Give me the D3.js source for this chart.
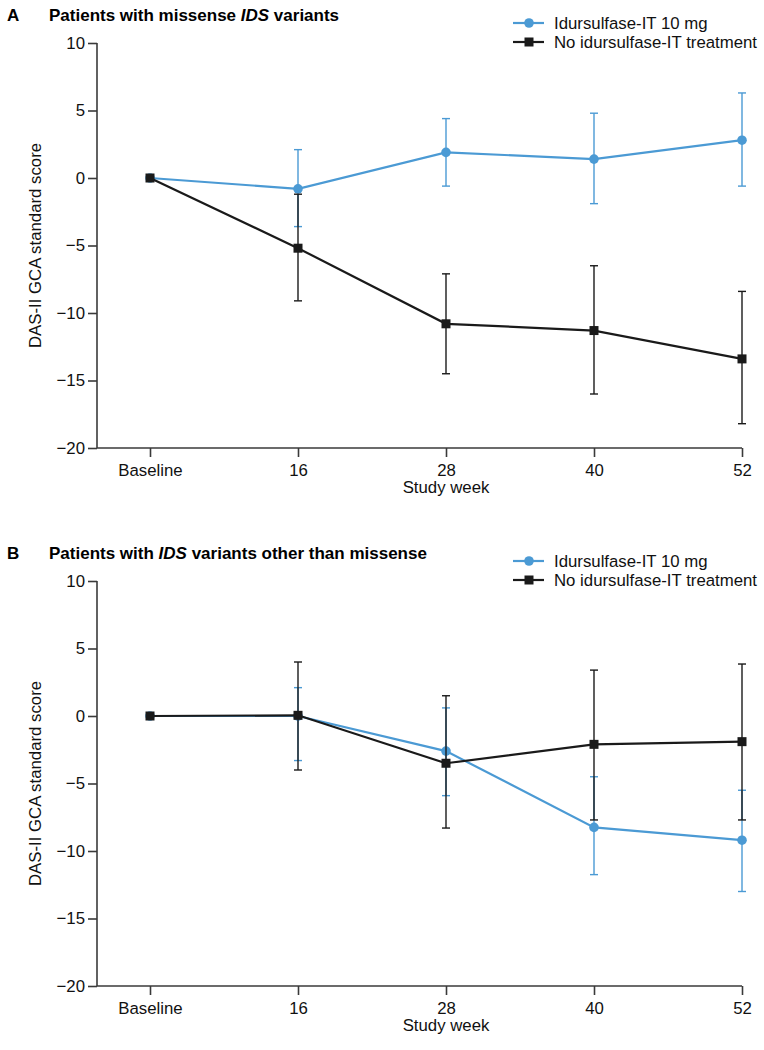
<!DOCTYPE html>
<html>
<head>
<meta charset="utf-8">
<script src="https://cdn.jsdelivr.net/npm/d3@7"></script>
<style>
  body { margin: 0; background: #fff; }
  svg text { font-family: "Liberation Sans", Arial, sans-serif; }
</style>
</head>
<body>
<svg id="main" width="764" height="1050"></svg>
<script>
const weeks = ["Baseline", "16", "28", "40", "52"];
const yTicks = [10, 5, 0, -5, -10, -15, -20];

// Panel A: missense IDS variants
const aIdu   = [0, -0.8, 1.9, 1.4, 2.8];
const aIduLo = [null, -3.6, -0.6, -1.9, -0.6];
const aIduHi = [null, 2.1, 4.4, 4.8, 6.3];
const aNo    = [0, -5.2, -10.8, -11.3, -13.4];
const aNoLo  = [null, -9.1, -14.5, -16.0, -18.2];
const aNoHi  = [null, -1.2, -7.1, -6.5, -8.4];

// Panel B: IDS variants other than missense
const bIdu   = [0, 0.0, -2.6, -8.25, -9.2];
const bIduLo = [null, -3.3, -5.9, -11.75, -13.0];
const bIduHi = [null, 2.1, 0.6, -4.5, -5.5];
const bNo    = [0, 0.05, -3.5, -2.1, -1.9];
const bNoLo  = [null, -4.0, -8.3, -7.7, -7.7];
const bNoHi  = [null, 4.0, 1.5, 3.4, 3.85];

const legendNames = ["Idursulfase-IT 10 mg", "No idursulfase-IT treatment"];
const blue = "#4b9ad4";
const black = "#1a1a1a";
const axisCol = "#3a3a3a";
const fs = "16.8px";

const svg = d3.select("svg#main");

const x = d3.scalePoint().domain(weeks).range([150, 742]);

function panel(off, letter, titleParts, idu, iduLo, iduHi, no, noLo, noHi) {
    const g = svg.append("g").attr("transform", `translate(0,${off})`);
    const y = d3.scaleLinear().domain([-20, 10]).range([448, 43]);

    // title
    g.append("text").attr("x", 7).attr("y", 21)
        .attr("font-size", "17px").attr("font-weight", "bold").text(letter);
    const t = g.append("text").attr("x", 49).attr("y", 21)
        .attr("font-size", "17px").attr("font-weight", "bold");
    titleParts.forEach(p => {
        t.append("tspan").attr("font-style", p[1] ? "italic" : "normal").text(p[0]);
    });

    // axes
    const yAxis = g.append("g").attr("transform", "translate(97,0)")
        .call(d3.axisLeft(y).tickValues(yTicks).tickSize(9).tickPadding(3)
            .tickFormat(d => d < 0 ? "\u2212" + Math.abs(d) : d));
    yAxis.select(".domain").remove();
    yAxis.append("line").attr("x1", 0).attr("x2", 0).attr("y1", y(10)).attr("y2", y(-20))
        .attr("stroke", axisCol).attr("stroke-width", 1.6);

    const xAxis = g.append("g").attr("transform", `translate(0,${y(-20)})`)
        .call(d3.axisBottom(x).tickSize(9).tickPadding(7));
    xAxis.select(".domain").remove();
    xAxis.append("line").attr("x1", 97).attr("x2", 742).attr("y1", 0).attr("y2", 0)
        .attr("stroke", axisCol).attr("stroke-width", 1.6);

    [yAxis, xAxis].forEach(a => {
        a.selectAll(".tick line").attr("stroke", axisCol).attr("stroke-width", 1.6);
        a.selectAll(".tick text").attr("font-size", fs).attr("fill", "#111")
            .attr("font-family", "Liberation Sans, Arial, sans-serif");
    });

    g.append("text").attr("x", 446).attr("y", 493).attr("text-anchor", "middle")
        .attr("font-size", fs).attr("fill", "#111").text("Study week");
    g.append("text").attr("transform", `translate(41,${(y(10) + y(-20)) / 2}) rotate(-90)`)
        .attr("text-anchor", "middle").attr("font-size", fs).attr("fill", "#111")
        .text("DAS-II GCA standard score");

    const line = d3.line().x((d, i) => x(weeks[i])).y(d => y(d));

    function series(vals, lo, hi, col, shape) {
        const s = g.append("g");
        const bars = weeks.map((w, i) => ({ w, lo: lo[i], hi: hi[i] })).filter(d => d.lo !== null);
        s.selectAll(".eb").data(bars).enter().append("line")
            .attr("x1", d => x(d.w)).attr("x2", d => x(d.w))
            .attr("y1", d => y(d.lo)).attr("y2", d => y(d.hi))
            .attr("stroke", col).attr("stroke-width", 1.4);
        ["lo", "hi"].forEach(k => {
            s.selectAll(".cap" + k).data(bars).enter().append("line")
                .attr("x1", d => x(d.w) - 4).attr("x2", d => x(d.w) + 4)
                .attr("y1", d => y(d[k])).attr("y2", d => y(d[k]))
                .attr("stroke", col).attr("stroke-width", 1.4);
        });
        s.append("path").datum(vals).attr("d", line)
            .attr("fill", "none").attr("stroke", col).attr("stroke-width", 2.2);
        if (shape === "circle") {
            s.selectAll("circle").data(vals).enter().append("circle")
                .attr("cx", (d, i) => x(weeks[i])).attr("cy", d => y(d))
                .attr("r", 4.8).attr("fill", col);
        } else {
            s.selectAll("rect").data(vals).enter().append("rect")
                .attr("x", (d, i) => x(weeks[i]) - 4.5).attr("y", d => y(d) - 4.5)
                .attr("width", 9).attr("height", 9).attr("fill", black);
        }
    }
    series(idu, iduLo, iduHi, blue, "circle");
    series(no, noLo, noHi, black, "square");

    // legend
    const leg = g.append("g").selectAll("g")
        .data([{ n: legendNames[0], c: blue, s: "circle" }, { n: legendNames[1], c: black, s: "square" }])
        .enter().append("g")
        .attr("transform", (d, i) => `translate(513,${23 + i * 19})`);
    leg.append("line").attr("x1", 0).attr("x2", 31).attr("stroke", d => d.c).attr("stroke-width", 2.2);
    leg.filter(d => d.s === "circle").append("circle").attr("cx", 16).attr("r", 4.8).attr("fill", blue);
    leg.filter(d => d.s === "square").append("rect").attr("x", 11.5).attr("y", -4.5)
        .attr("width", 9).attr("height", 9).attr("fill", black);
    leg.append("text").attr("x", 41).attr("dy", "0.35em").attr("font-size", fs)
        .attr("fill", "#111").text(d => d.n);
}

panel(0, "A", [["Patients with missense ", false], ["IDS", true], [" variants", false]],
    aIdu, aIduLo, aIduHi, aNo, aNoLo, aNoHi);
panel(538, "B", [["Patients with ", false], ["IDS", true], [" variants other than missense", false]],
    bIdu, bIduLo, bIduHi, bNo, bNoLo, bNoHi);
</script>
</body>
</html>
